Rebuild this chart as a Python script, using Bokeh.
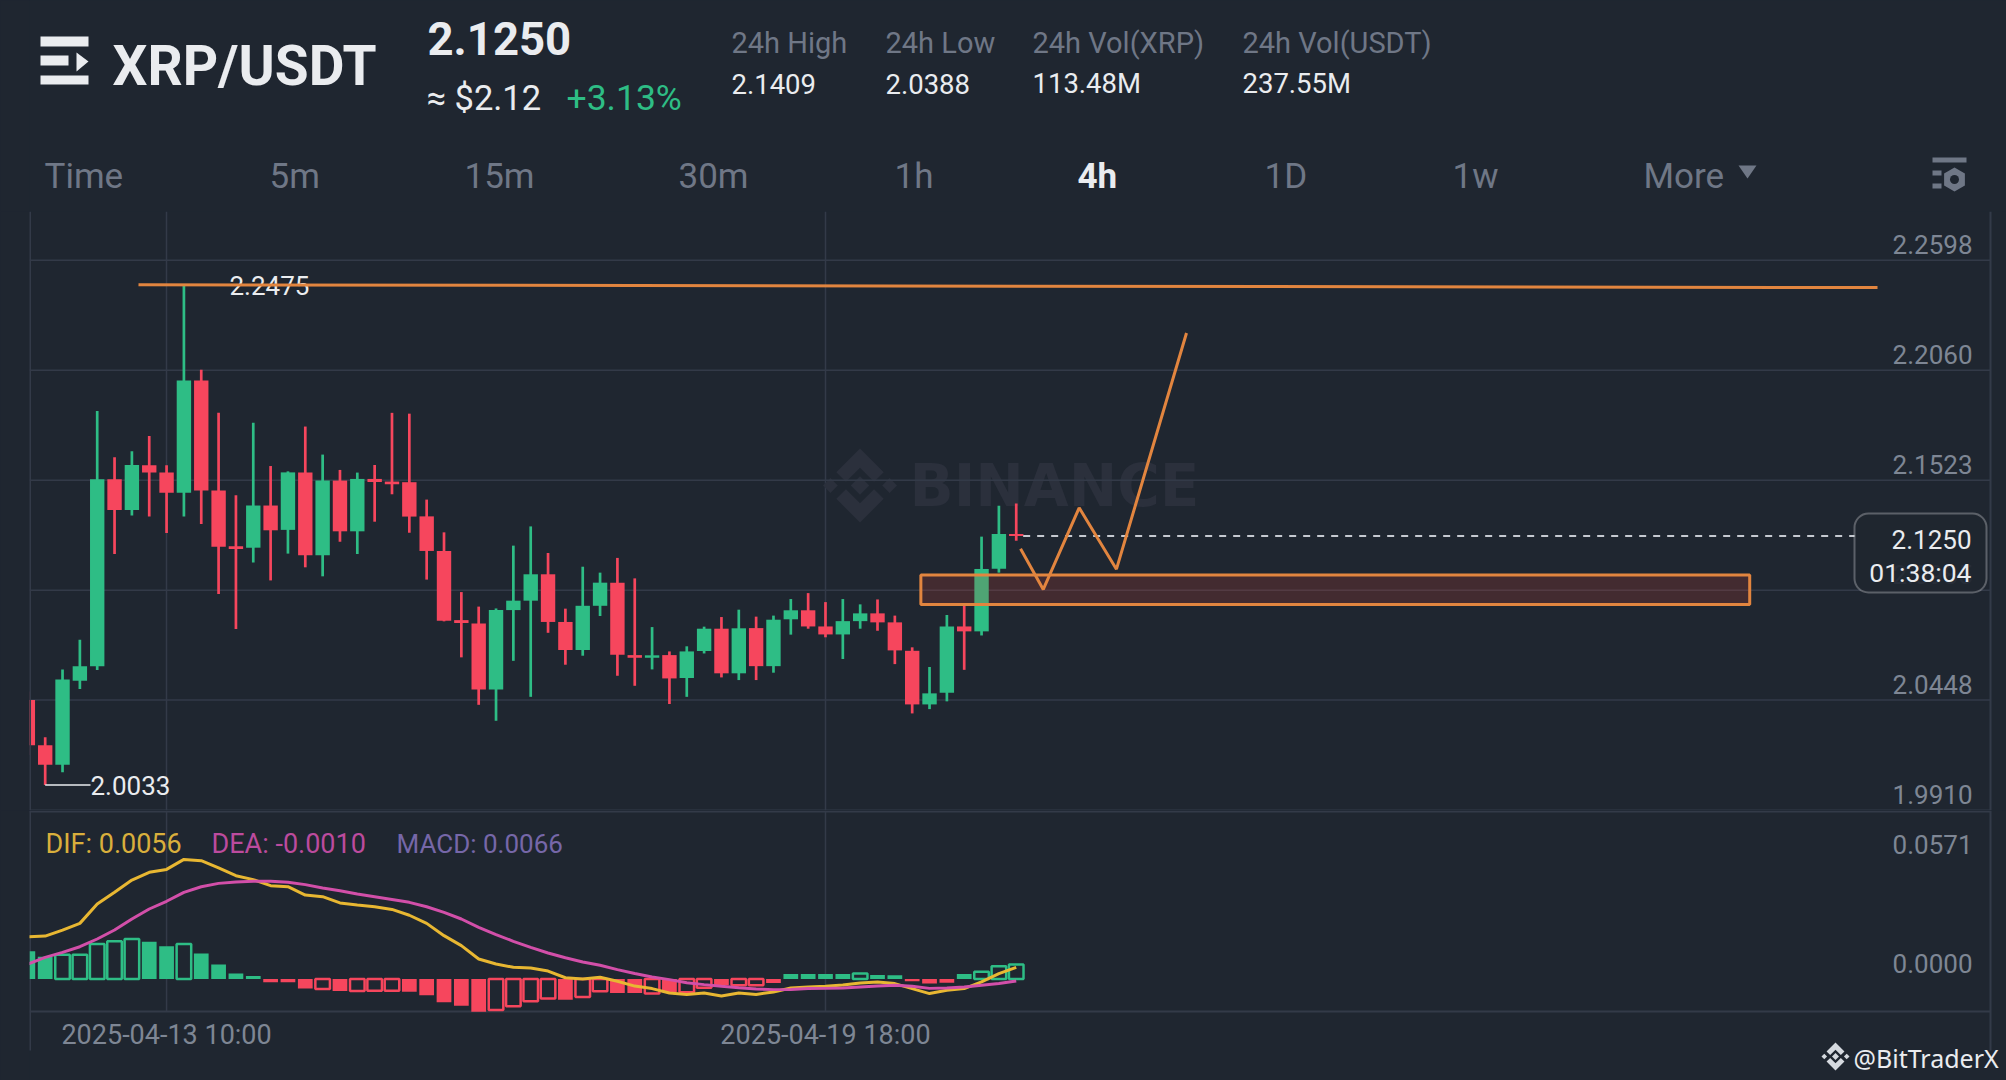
from bokeh.core.properties import value
from bokeh.embed import file_html
from bokeh.layouts import column
from bokeh.models import (BoxAnnotation, FixedTicker, Grid, Label, LinearAxis,
                          NumeralTickFormatter, Range1d)
from bokeh.plotting import figure
from bokeh.resources import INLINE

# ---------- DATA ----------
opens = [2.0448,2.0227,2.0132,2.0543,2.0614,2.1527,2.1377,2.1596,2.1561,2.1462,2.2010,2.1473,2.1200,2.1193,2.1399,2.1280,2.1561,2.1156,2.1521,2.1273,
         2.1529,2.1516,2.1513,2.1346,2.1177,2.0839,2.0823,2.0500,2.0888,2.0934,2.1063,2.0830,2.0693,2.0909,2.1022,2.0668,2.0655,2.0668,2.0556,2.0688,
         2.0797,2.0579,2.0800,2.0614,2.0843,2.0887,2.0808,2.0769,2.0834,2.0872,2.0828,2.0689,2.0427,2.0484,2.0808,2.0784,2.1090,2.1260]
highs = [2.0490,2.0267,2.0598,2.0743,2.1861,2.1635,2.1664,2.1739,2.1596,2.2475,2.2062,2.1852,2.1449,2.1803,2.1592,2.1566,2.1785,2.1648,2.1573,2.1560,
         2.1597,2.1852,2.1848,2.1428,2.1268,2.0976,2.0905,2.0896,2.1203,2.1297,2.1167,2.0895,2.1100,2.1071,2.1143,2.1043,2.0805,2.0686,2.0711,2.0807,
         2.0854,2.0890,2.0856,2.0861,2.0942,2.0971,2.0927,2.0942,2.0916,2.0940,2.0861,2.0706,2.0610,2.0864,2.0909,2.1247,2.1398,2.1409]
lows = [2.0180,2.0033,2.0096,2.0502,2.0595,2.1162,2.1350,2.1346,2.1265,2.1346,2.1309,2.0967,2.0795,2.1120,2.1033,2.1164,2.1097,2.1053,2.1222,2.1162,
        2.1320,2.1454,2.1266,2.1037,2.0833,2.0657,2.0425,2.0347,2.0640,2.0464,2.0777,2.0621,2.0665,2.0859,2.0567,2.0518,2.0598,2.0429,2.0464,2.0676,
        2.0559,2.0546,2.0546,2.0582,2.0768,2.0797,2.0755,2.0649,2.0797,2.0787,2.0624,2.0383,2.0404,2.0442,2.0596,2.0764,2.1071,2.1227]
closes = [2.0227,2.0132,2.0549,2.0614,2.1527,2.1377,2.1597,2.1561,2.1462,2.2010,2.1473,2.1198,2.1187,2.1399,2.1278,2.1561,2.1156,2.1521,2.1273,2.1529,
          2.1514,2.1503,2.1345,2.1177,2.0836,2.0825,2.0500,2.0888,2.0934,2.1063,2.0830,2.0693,2.0909,2.1022,2.0670,2.0655,2.0667,2.0554,2.0686,2.0797,
          2.0579,2.0799,2.0614,2.0841,2.0887,2.0808,2.0769,2.0834,2.0872,2.0828,2.0691,2.0427,2.0481,2.0808,2.0784,2.1089,2.1260,2.1250]
hist = [0.0133,0.0107,0.0117,0.0117,0.0168,0.0181,0.0192,0.0179,0.0157,0.0168,0.0123,0.0070,0.0027,0.0014,-0.0016,-0.0016,-0.0045,-0.0048,-0.0058,-0.0058,
        -0.0056,-0.0056,-0.0061,-0.0078,-0.0112,-0.0128,-0.0157,-0.0149,-0.0131,-0.0107,-0.0094,-0.0099,-0.0086,-0.0059,-0.0067,-0.0067,-0.0070,-0.0064,-0.0064,-0.0042,
        -0.0030,-0.0030,-0.0030,-0.0019,0.0024,0.0024,0.0024,0.0024,0.0026,0.0019,0.0018,-0.0011,-0.0022,-0.0018,0.0024,0.0035,0.0061,0.0070]
hollow_bars = [2,3,4,5,6,9,17,19,20,21,27,28,29,30,32,33,36,38,39,41,42,48,55,56,57]
dif = [0.0203,0.0206,0.0235,0.0267,0.0360,0.0416,0.0475,0.0512,0.0526,0.0574,0.0568,0.0533,0.0496,0.0477,0.0448,0.0443,0.0403,0.0395,0.0365,0.0355,
       0.0347,0.0334,0.0306,0.0267,0.0208,0.0160,0.0096,0.0072,0.0056,0.0053,0.0038,0.0006,0.0000,0.0008,-0.0011,-0.0034,-0.0046,-0.0067,-0.0074,-0.0067,
       -0.0082,-0.0067,-0.0074,-0.0062,-0.0043,-0.0038,-0.0035,-0.0029,-0.0019,-0.0014,-0.0022,-0.0046,-0.0070,-0.0054,-0.0046,-0.0014,0.0026,0.0056]
dea = [0.0072,0.0104,0.0128,0.0155,0.0192,0.0235,0.0288,0.0336,0.0373,0.0416,0.0443,0.0459,0.0466,0.0469,0.0469,0.0464,0.0453,0.0437,0.0424,0.0408,
       0.0395,0.0382,0.0368,0.0347,0.0320,0.0288,0.0248,0.0213,0.0181,0.0152,0.0125,0.0102,0.0082,0.0066,0.0045,0.0026,0.0010,-0.0003,-0.0018,-0.0027,
       -0.0035,-0.0042,-0.0048,-0.0051,-0.0050,-0.0046,-0.0045,-0.0043,-0.0038,-0.0034,-0.0030,-0.0035,-0.0045,-0.0043,-0.0038,-0.0030,-0.0022,-0.0010]

price_ticks = [2.2598, 2.2060, 2.1523, 2.0985, 2.0448, 1.9910]
macd_ticks = [0.0571, 0.0]
date_ticks = [8, 46]
date_labels = ["2025-04-13 10:00", "2025-04-19 18:00"]

# hand-drawn overlays, in (candle index, price)
resist_x = [6.38, 106.67]
resist_y = [2.2478, 2.2464]
zigzag_x = [57.25, 58.56, 60.63, 62.78, 66.82]
zigzag_y = [2.1188, 2.0989, 2.1388, 2.1088, 2.2242]
zone = dict(left=51.5, right=99.3, top=2.1060, bottom=2.0915)
last_price = 2.1250
peak_label = ("2.2475", 2.2475)
trough_label = ("2.0033", 2.0033)

header_symbol = "XRP/USDT"
header_price = "2.1250"
header_usd = "≈ $2.12"
header_change = "+3.13%"
stat_names = ["24h High", "24h Low", "24h Vol(XRP)", "24h Vol(USDT)"]
stat_values = ["2.1409", "2.0388", "113.48M", "237.55M"]
tabs = ["Time", "5m", "15m", "30m", "1h", "4h", "1D", "1w", "More"]
active_tab = "4h"
macd_legend = ["DIF: 0.0056", "DEA: -0.0010", "MACD: 0.0066"]

# ---------- STYLE / LAYOUT ----------
BG = "#1F2630"; GRID = "#333A48"; GREEN = "#2EBD85"; RED = "#F6465D"
ORANGE = "#E2853F"; AXIS = "#7E8694"; WHITE = "#EAECEF"; TAB = "#6F7786"
FONT = "Roboto"; WM = "#2B303C"
W = 2006
HEAD_H, MAIN_H, MACD_H = 211, 599, 270
LEFT, RIGHT = 29, 4
EDGE_PX = 1990
X0, DX = 27.35, 17.34                 # page px of candle 0 / per candle
K = (2.2598 - 1.9910) / 550           # price per px
MK = 0.00048                          # macd per px
BAR_W = 0.83


def ix(px):
    return (px - X0) / DX


def price_at(py):
    return 2.2598 - (py - 259.7) * K


def macd_at(py):
    return (978.5 - py) * MK


x_start, x_end = ix(LEFT), ix(W - RIGHT)
x_edge = ix(EDGE_PX)
n = len(closes)
idx = list(range(n))


def blank(h, xr, yr, left=LEFT, right=RIGHT):
    return figure(width=W, height=h, x_range=xr, y_range=yr, x_axis_type=None, y_axis_type=None,
                  output_backend="svg", toolbar_location=None, background_fill_color=BG,
                  border_fill_color=BG, outline_line_color=None, min_border=0,
                  min_border_left=left, min_border_right=right, min_border_top=0, min_border_bottom=0)


def logo(p, cx, cy, r, fx, fy, color, alpha=1.0):
    """Binance mark, from unit shapes, placed in page px."""
    shapes = [[(0, 1), (.64, .36), (.38, .10), (0, .48), (-.38, .10), (-.64, .36)],
              [(0, -1), (.64, -.36), (.38, -.10), (0, -.48), (-.38, -.10), (-.64, -.36)],
              [(0, .25), (.25, 0), (0, -.25), (-.25, 0)],
              [(.8, .2), (1, 0), (.8, -.2), (.6, 0)],
              [(-.8, .2), (-.6, 0), (-.8, -.2), (-1, 0)]]
    xs = [[fx(cx + a * r) for a, b in s] for s in shapes]
    ys = [[fy(cy - b * r) for a, b in s] for s in shapes]
    p.patches(xs, ys, fill_color=color, fill_alpha=alpha, line_color=None)


# ---------- HEADER ----------
h = blank(HEAD_H, Range1d(LEFT, W - RIGHT), Range1d(HEAD_H, 0))


def htext(xs, ys, texts, size, color, style="normal", align="left"):
    h.text(xs, ys, text=texts, text_font=value(FONT), text_font_size=size, text_color=color,
           text_font_style=style, text_align=align, text_baseline="middle")


h.quad(left=[40, 40, 40], right=[88, 68, 88], top=[36, 55, 75], bottom=[46, 65, 84], fill_color=WHITE, line_color=None)
h.patch([76, 88, 76], [52, 61, 71], fill_color=WHITE, line_color=None)
htext([112], [65], [header_symbol], "55px", WHITE, "bold")
htext([427], [38], [header_price], "45.5px", WHITE, "bold")
htext([426], [97], [header_usd], "34.5px", WHITE)
htext([566], [97], [header_change], "35.5px", GREEN)
stat_x = [731, 885, 1032, 1242]
htext(stat_x, [42] * 4, stat_names, "29px", TAB)
htext(stat_x, [83] * 4, stat_values, "27.5px", WHITE)
tab_x = [44, 269, 464, 678, 894, 1077, 1264, 1452, 1643]
for tx, t in zip(tab_x, tabs):
    on = t == active_tab
    htext([tx], [175.5], [t], "35px", WHITE if on else TAB, "bold" if on else "normal")
h.patch([1738, 1756, 1747], [165, 165, 178], fill_color=TAB, line_color=None)
h.quad(left=[1932, 1932, 1932], right=[1966, 1941, 1941], top=[157, 170, 183], bottom=[162, 175, 188],
       fill_color=TAB, line_color=None)
h.scatter([1954], [179], size=24, marker="hex", fill_color=TAB, line_color=None, angle=1.5708)
h.scatter([1954], [179], size=9, marker="circle", fill_color=BG, line_color=None)

# ---------- MAIN PANE ----------
top_real, bottom_real = HEAD_H, HEAD_H + MAIN_H
yr_start, yr_end = price_at(bottom_real), price_at(top_real)
m = blank(MAIN_H, Range1d(x_start, x_end), Range1d(yr_start, yr_end))
m.add_layout(Grid(dimension=0, ticker=FixedTicker(ticks=date_ticks), grid_line_color=GRID, grid_line_width=1.5), "center")

lab_shift = 15.4 * K
m.extra_y_ranges = {"labels": Range1d(yr_start - lab_shift, yr_end - lab_shift)}
m.add_layout(LinearAxis(y_range_name="labels", ticker=FixedTicker(ticks=price_ticks),
                        formatter=NumeralTickFormatter(format="0.0000"), fixed_location=ix(1978),
                        axis_line_color=None, major_tick_line_color=None, minor_tick_line_color=None,
                        major_label_standoff=0, major_label_text_color=AXIS, major_label_text_font=FONT,
                        major_label_text_font_size="26px"), "left")

# watermark
logo(m, 859.5, 485, 37, ix, price_at, WM)
m.text([ix(1054)], [price_at(485.5)], text=["BINANCE"], text_font=value("DejaVu Sans"), text_font_style="bold",
       text_font_size="58px", text_color=WM, text_align="center", text_baseline="middle")

# horizontal grid stops at the right edge line
m.segment([x_start] * len(price_ticks), price_ticks, [x_edge] * len(price_ticks), price_ticks,
          line_color=GRID, line_width=1.5)

col = [GREEN if c > o else RED for o, c in zip(opens, closes)]
m.segment(idx, highs, idx, lows, line_color=col, line_width=2.7)
m.quad(left=[i - BAR_W / 2 for i in idx], right=[i + BAR_W / 2 for i in idx],
       top=[max(o, c) for o, c in zip(opens, closes)], bottom=[min(o, c) for o, c in zip(opens, closes)],
       fill_color=col, line_color=None)

# extreme labels
m.line([1, ix(90)], [trough_label[1]] * 2, line_color=WHITE, line_width=1.5)
m.text([ix(90)], [trough_label[1]], text=[trough_label[0]], text_font=value(FONT), text_font_size="26px",
       text_color=WHITE, text_baseline="middle")
m.text([ix(229)], [peak_label[1]], text=[peak_label[0]], text_font=value(FONT), text_font_size="26px",
       text_color=WHITE, text_baseline="middle")

# last price line and countdown box
m.line([57.4, ix(1855)], [last_price] * 2, line_color="#C5C9D0", line_width=2, line_dash=[7, 7])
m.add_layout(BoxAnnotation(left=ix(1854), right=ix(1986), top=price_at(513), bottom=price_at(592),
                           fill_color=BG, fill_alpha=0.92, line_color=WHITE, line_width=2,
                           border_radius=14, level="annotation"))
for txt, py, fs in ((header_price, 539, "26px"), ("01:38:04", 572, "26.5px")):
    m.add_layout(Label(x=ix(1971), y=price_at(py), text=txt, text_font=FONT, text_font_size=fs,
                       text_color=WHITE, text_align="right", text_baseline="middle", level="overlay"))

# drawn overlays
m.quad(left=[zone["left"]], right=[zone["right"]], top=[zone["top"]], bottom=[zone["bottom"]],
       fill_color="#D73F30", fill_alpha=0.2, line_color=ORANGE, line_width=3)
m.line(resist_x, resist_y, line_color=ORANGE, line_width=3)
m.line(zigzag_x, zigzag_y, line_color=ORANGE, line_width=3)

# frame edges
for ex in (x_start + 0.03, x_edge):
    m.segment([ex], [yr_start], [ex], [yr_end], line_color=GRID, line_width=2)

# ---------- MACD PANE ----------
mtop, mbot = bottom_real, bottom_real + MACD_H
my_start, my_end = macd_at(mbot), macd_at(mtop)
d = blank(MACD_H, Range1d(x_start, x_end), Range1d(my_start, my_end))
floor = macd_at(1011)
d.segment(date_ticks, [floor] * 2, date_ticks, [my_end] * 2, line_color=GRID, line_width=1.5)
d.segment([x_start, x_start], [floor, macd_at(811)], [x_edge, x_edge], [floor, macd_at(811)],
          line_color=GRID, line_width=2)
for ex in (x_start + 0.03, x_edge):
    d.segment([ex], [macd_at(1050)], [ex], [my_end], line_color=GRID, line_width=2)

d.extra_y_ranges = {"labels": Range1d(my_start - 16 * MK, my_end - 16 * MK)}
d.add_layout(LinearAxis(y_range_name="labels", ticker=FixedTicker(ticks=macd_ticks),
                        formatter=NumeralTickFormatter(format="0.0000"), fixed_location=ix(1978),
                        axis_line_color=None, major_tick_line_color=None, minor_tick_line_color=None,
                        major_label_standoff=0, major_label_text_color=AXIS, major_label_text_font=FONT,
                        major_label_text_font_size="26px"), "left")
d.add_layout(LinearAxis(ticker=FixedTicker(ticks=date_ticks),
                        major_label_overrides=dict(zip(date_ticks, date_labels)), fixed_location=floor,
                        axis_line_color=None, major_tick_line_color=None, minor_tick_line_color=None,
                        major_label_standoff=1, major_label_text_color=AXIS, major_label_text_font=FONT,
                        major_label_text_font_size="27px"), "below")

solid = [i for i in idx if i not in hollow_bars]
for which, fill in ((solid, True), (hollow_bars, False)):
    tops = [hist[i] for i in which]
    colors = [GREEN if hist[i] >= 0 else RED for i in which]
    if fill:
        d.vbar(which, width=0.85, top=tops, bottom=0, fill_color=colors, line_color=None)
    else:
        d.vbar(which, width=0.84, top=tops, bottom=0, fill_color=None, line_color=colors, line_width=2.5)

d.line(idx, dif, line_color="#E8B732", line_width=3)
d.line(idx, dea, line_color="#D24FA9", line_width=3)

for t, px, c, fs in zip(macd_legend, [45, 211, 396], ["#D9AF3C", "#BC4B9E", "#7667A8"], ["27px", "27px", "26px"]):
    d.add_layout(Label(x=ix(px), y=macd_at(843), text=t, text_font=FONT, text_font_size=fs, text_color=c,
                       text_align="left", text_baseline="middle"))

logo(d, 1835, 1056, 14, ix, macd_at, "#D5D9DF")
d.add_layout(Label(x=ix(1853), y=macd_at(1057), text="@BitTraderX", text_font="Noto Sans", text_font_size="25px",
                   text_color=WHITE, text_align="left", text_baseline="middle", level="overlay"))

root = column(h, m, d, spacing=0)
html = file_html(root, INLINE, title="XRP/USDT")
html = html.replace("<head>", "<head><style>html,body{background:%s}</style>" % BG, 1)
open("out.html", "w").write(html)
